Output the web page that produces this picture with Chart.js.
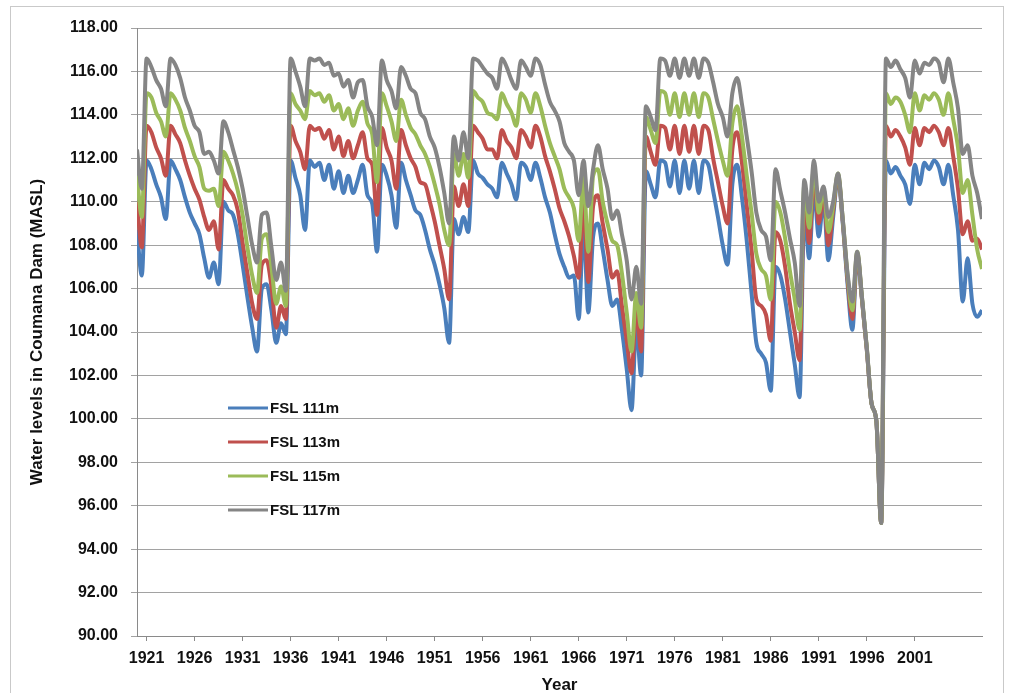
<!DOCTYPE html>
<html>
<head>
<meta charset="utf-8">
<title>Water levels in Coumana Dam</title>
<script src="https://cdn.jsdelivr.net/npm/chart.js@4.4.1/dist/chart.umd.min.js"></script>
<style>
  html, body { margin: 0; padding: 0; background: #fff; }
  #wrap { position: relative; width: 1014px; height: 693px; }
</style>
</head>
<body>
<div id="wrap"><canvas id="myChart"></canvas></div>
<script>
//==============DATA===============
// half-year steps
const years = [
  1920.0, 1920.5, 1921.0, 1921.5, 1922.0, 1922.5, 1923.0, 1923.5, 1924.0, 1924.5,
  1925.0, 1925.5, 1926.0, 1926.5, 1927.0, 1927.5, 1928.0, 1928.5, 1929.0, 1929.5,
  1930.0, 1930.5, 1931.0, 1931.5, 1932.0, 1932.5, 1933.0, 1933.5, 1934.0, 1934.5,
  1935.0, 1935.5, 1936.0, 1936.5, 1937.0, 1937.5, 1938.0, 1938.5, 1939.0, 1939.5,
  1940.0, 1940.5, 1941.0, 1941.5, 1942.0, 1942.5, 1943.0, 1943.5, 1944.0, 1944.5,
  1945.0, 1945.5, 1946.0, 1946.5, 1947.0, 1947.5, 1948.0, 1948.5, 1949.0, 1949.5,
  1950.0, 1950.5, 1951.0, 1951.5, 1952.0, 1952.5, 1953.0, 1953.5, 1954.0, 1954.5,
  1955.0, 1955.5, 1956.0, 1956.5, 1957.0, 1957.5, 1958.0, 1958.5, 1959.0, 1959.5,
  1960.0, 1960.5, 1961.0, 1961.5, 1962.0, 1962.5, 1963.0, 1963.5, 1964.0, 1964.5,
  1965.0, 1965.5, 1966.0, 1966.5, 1967.0, 1967.5, 1968.0, 1968.5, 1969.0, 1969.5,
  1970.0, 1970.5, 1971.0, 1971.5, 1972.0, 1972.5, 1973.0, 1973.5, 1974.0, 1974.5,
  1975.0, 1975.5, 1976.0, 1976.5, 1977.0, 1977.5, 1978.0, 1978.5, 1979.0, 1979.5,
  1980.0, 1980.5, 1981.0, 1981.5, 1982.0, 1982.5, 1983.0, 1983.5, 1984.0, 1984.5,
  1985.0, 1985.5, 1986.0, 1986.5, 1987.0, 1987.5, 1988.0, 1988.5, 1989.0, 1989.5,
  1990.0, 1990.5, 1991.0, 1991.5, 1992.0, 1992.5, 1993.0, 1993.5, 1994.0, 1994.5,
  1995.0, 1995.5, 1996.0, 1996.5, 1997.0, 1997.5, 1998.0, 1998.5, 1999.0, 1999.5,
  2000.0, 2000.5, 2001.0, 2001.5, 2002.0, 2002.5, 2003.0, 2003.5, 2004.0, 2004.5,
  2005.0, 2005.5, 2006.0, 2006.5, 2007.0, 2007.5, 2008.0
];

const fsl111 = [
  108.7, 106.6, 111.9, 111.5, 110.8, 110.2, 109.2, 111.9, 111.5, 111.0,
  110.2, 109.5, 109.0, 108.5, 107.4, 106.5, 107.2, 106.2, 110.0, 109.6,
  109.4, 108.5, 107.1, 105.6, 104.2, 103.1, 106.0, 106.2, 105.0, 103.5,
  104.4, 103.9, 111.9, 111.1, 110.3, 108.7, 111.9, 111.6, 111.8, 111.0,
  111.7, 110.6, 111.4, 110.4, 111.2, 110.4, 111.0, 111.7, 110.3, 109.9,
  107.7, 111.7, 111.2, 110.3, 108.8, 111.8, 111.0, 110.3, 109.6, 109.4,
  108.7, 107.8, 107.1, 106.2, 105.1, 103.5, 109.2, 108.5, 109.3, 108.6,
  111.9, 111.3, 111.1, 110.8, 110.6, 110.2, 111.8, 111.3, 110.8, 110.1,
  111.8, 111.6, 111.0, 111.8, 111.1, 110.2, 109.5, 108.5, 107.6, 107.0,
  106.5, 106.6, 104.6, 108.9, 104.9, 108.4, 109.0, 107.8, 106.4, 105.2,
  105.5, 104.1, 102.3, 100.4, 104.3, 102.0, 111.4, 110.8, 110.2, 111.9,
  111.8, 110.7, 111.9, 110.4, 111.9, 110.6, 111.9, 110.4, 111.9, 111.7,
  110.5, 109.3, 108.0, 107.1, 110.8, 111.7, 110.2, 108.2, 105.8, 103.5,
  103.0, 102.6, 101.3, 107.0, 106.6, 105.5, 104.0, 102.5, 101.0, 109.6,
  107.4, 110.6, 108.4, 110.1, 107.3, 109.3, 111.1, 109.0, 106.2, 104.1,
  107.5, 105.5, 103.2, 100.7, 99.9, 95.2, 111.9, 111.3, 111.6, 111.2,
  110.8, 109.9, 111.7, 110.8, 111.8, 111.5, 111.9, 111.6, 110.8, 111.7,
  110.3, 108.7, 105.4, 107.4, 105.3, 104.7, 105.0
];

const fsl113 = [
  110.0, 107.9, 113.5, 113.2, 112.5, 112.0, 111.2, 113.5, 113.1, 112.7,
  111.9, 111.2, 110.6, 110.1, 109.3, 108.7, 109.1, 107.8, 111.0, 110.6,
  110.3, 109.6, 108.1, 106.7, 105.3, 104.6, 107.1, 107.3, 106.1, 104.2,
  105.2, 104.6, 113.5, 112.8, 112.3, 111.5, 113.5, 113.3, 113.4, 112.9,
  113.3, 112.4, 113.0, 112.1, 112.8, 112.0, 112.6, 113.2, 112.0, 111.7,
  109.4, 113.4, 112.5, 111.9, 110.6, 113.3, 112.6, 112.0, 111.6, 110.9,
  110.8, 110.0, 109.1, 108.0, 106.9, 105.5, 110.7, 109.8, 110.8, 109.8,
  113.5, 113.2, 112.9, 112.4, 112.4, 112.0, 113.3, 112.8, 112.5, 112.0,
  113.3, 113.0, 112.5, 113.5, 113.0, 112.1, 111.4, 110.6, 109.7, 109.1,
  108.4, 107.5, 106.5, 110.0, 106.3, 109.8, 110.3, 109.0, 107.8, 106.5,
  106.8, 105.2, 103.6, 102.1, 105.1, 103.1, 113.0, 112.3, 111.7, 113.5,
  113.4, 112.4, 113.5, 112.2, 113.5, 112.3, 113.5, 112.2, 113.5, 113.3,
  112.0, 110.9, 109.8, 109.0, 112.4, 113.2, 111.8, 109.8, 107.8, 105.5,
  105.2, 104.8, 103.6, 108.6, 108.2, 107.0, 105.3, 104.0, 102.7, 110.3,
  108.1, 111.3, 109.0, 110.4, 108.0, 109.6, 111.2, 109.1, 106.4, 104.6,
  107.6, 105.5, 103.2, 100.7, 99.9, 95.2, 113.5, 113.0, 113.3, 113.0,
  112.5, 111.7, 113.4, 112.6, 113.4, 113.2, 113.5, 113.2, 112.6, 113.4,
  112.1, 110.6, 108.5, 109.1, 108.2, 108.3, 107.8
];

const fsl115 = [
  111.2, 109.3, 115.0, 114.8, 114.1, 113.7, 113.0, 115.0, 114.7, 114.2,
  113.4, 112.8, 112.1, 111.6, 110.6, 110.5, 110.6, 109.8, 112.3, 111.9,
  111.3, 110.5, 109.4, 107.9, 106.6, 105.8, 108.3, 108.5, 107.0, 105.3,
  106.1, 105.2, 115.0, 114.5, 114.2, 113.8, 115.1, 114.9, 115.0, 114.6,
  114.9, 114.2, 114.5, 113.8, 114.3, 113.5, 114.2, 114.6, 113.6, 113.1,
  110.9, 115.0, 114.4, 113.7, 112.8, 114.7, 114.0, 113.4, 113.1, 112.6,
  112.2, 111.6, 110.8, 109.9, 108.7, 108.0, 112.2, 111.2, 112.2, 111.1,
  115.1, 114.8, 114.6, 114.1, 114.0, 113.8, 115.0, 114.5, 114.1, 113.5,
  115.0, 114.7, 114.1, 115.0, 114.4, 113.5, 112.7, 112.1, 111.5, 110.6,
  110.2, 109.7, 108.2, 111.1, 107.7, 111.2, 111.5, 110.0, 109.0, 108.2,
  108.0, 106.7, 104.9, 103.1, 105.8, 104.2, 113.9, 113.3, 112.7, 115.1,
  115.0, 114.0, 115.0, 113.9, 115.0, 114.0, 115.0, 113.9, 115.0, 114.8,
  113.8, 112.8, 111.9, 111.2, 113.6, 114.4, 113.0, 111.2, 109.5, 107.6,
  106.9, 106.6, 105.5, 110.0, 109.5, 108.3, 106.8, 105.5, 104.1, 110.8,
  108.8, 111.6, 109.5, 110.6, 108.6, 109.8, 111.3, 109.2, 106.6, 105.0,
  107.7, 105.6, 103.3, 100.7, 99.9, 95.2, 115.0, 114.5, 114.8, 114.6,
  114.0, 113.2, 115.0, 114.2, 114.9, 114.7, 115.0, 114.7, 114.0, 115.0,
  113.8, 112.5, 110.4, 111.0, 109.4, 107.8, 106.9
];

const fsl117 = [
  112.4, 110.6, 116.6, 116.2, 115.6, 115.2, 114.4, 116.6, 116.3, 115.7,
  114.8, 114.2, 113.5, 113.2, 112.2, 112.3, 111.9, 111.3, 113.7, 113.2,
  112.4, 111.6, 110.6, 109.3, 108.0, 107.2, 109.4, 109.5, 107.9, 106.4,
  107.2, 105.9, 116.6, 116.0, 115.3, 114.4, 116.6, 116.5, 116.6, 116.3,
  116.4, 115.8, 115.9, 115.3, 115.6, 114.8, 115.5, 115.6, 114.4, 113.9,
  112.6, 116.5, 115.6, 115.1, 114.3, 116.2, 115.8, 115.2, 115.0, 114.1,
  113.8, 113.0, 112.5, 111.6, 110.4, 109.0, 113.0, 111.9, 113.2, 112.0,
  116.6, 116.5, 116.2, 115.9, 115.7, 115.2, 116.6, 116.2, 115.6, 115.2,
  116.5, 116.2, 115.8, 116.6, 116.3, 115.4, 114.6, 114.2, 113.7, 112.7,
  112.3, 111.9, 110.3, 111.9, 109.8, 111.5, 112.6, 111.5, 110.6, 109.2,
  109.6, 108.5, 107.3, 105.5, 107.0, 105.3, 114.4, 113.9, 113.3, 116.6,
  116.5, 115.8, 116.6, 115.7, 116.6, 115.8, 116.6, 115.7, 116.6, 116.4,
  115.5, 114.5, 113.9, 113.0, 115.0, 115.7, 114.5, 113.0, 111.4, 109.5,
  108.7, 108.4, 107.3, 111.5, 110.5, 109.5, 108.3, 107.2, 105.2, 111.0,
  109.5, 111.9, 110.0, 110.7, 109.3, 110.0, 111.3, 109.2, 106.7, 105.4,
  107.7, 105.6, 103.3, 100.7, 99.9, 95.2, 116.6, 116.2, 116.5, 116.1,
  115.7, 114.8, 116.5, 115.9, 116.4, 116.3, 116.6, 116.4, 115.5, 116.6,
  115.5, 114.3, 112.2, 112.6, 111.2, 110.4, 109.2
];

const seriesNames = ['FSL 111m', 'FSL 113m', 'FSL 115m', 'FSL 117m'];
const seriesColors = ['#4a7ebb', '#c0504d', '#9bbb59', '#858585'];
const xTickYears = [1921, 1926, 1931, 1936, 1941, 1946, 1951, 1956, 1961, 1966, 1971, 1976, 1981, 1986, 1991, 1996, 2001];

//==============HELPERS===============
const FONT = '"Liberation Sans", Arial, sans-serif';

function toPoints(values) {
  return years.map((y, i) => ({x: y, y: values[i]}));
}

// frame + white background
const framePlugin = {
  id: 'frame',
  beforeDraw(chart) {
    const ctx = chart.ctx;
    ctx.save();
    ctx.fillStyle = '#fff';
    ctx.fillRect(0, 0, chart.width, chart.height);
    ctx.strokeStyle = '#c9c9c9';
    ctx.lineWidth = 1;
    ctx.strokeRect(10.5, 6.5, 993, 700);
    ctx.restore();
  }
};

// legend sitting inside the plot, lower left
const legendPlugin = {
  id: 'fslLegend',
  afterDraw(chart) {
    const ctx = chart.ctx;
    ctx.save();
    ctx.font = 'bold 15px ' + FONT;
    ctx.textBaseline = 'middle';
    ctx.fillStyle = '#111';
    seriesNames.forEach((name, i) => {
      const y = 408 + i * 34;
      ctx.strokeStyle = seriesColors[i];
      ctx.lineWidth = 3;
      ctx.beginPath();
      ctx.moveTo(228, y);
      ctx.lineTo(268, y);
      ctx.stroke();
      ctx.fillText(name, 270, y + 1);
    });
    ctx.restore();
  }
};

//==============CHART===============
const allSeries = [fsl111, fsl113, fsl115, fsl117];

const datasets = allSeries.map((vals, i) => ({
  label: seriesNames[i],
  data: toPoints(vals),
  borderColor: seriesColors[i],
  backgroundColor: seriesColors[i],
  borderWidth: 4,
  pointRadius: 0,
  cubicInterpolationMode: 'monotone',
  order: 3 - i   // grey on top
}));

const myChart = document.getElementById('myChart');

let lineChart = new Chart(myChart, {
  type: 'line',
  data: { datasets: datasets },
  plugins: [framePlugin, legendPlugin],
  options: {
    responsive: true,
    maintainAspectRatio: false,
    animation: false,
    layout: { padding: { top: 28, right: 32, bottom: 0, left: 0 } },
    plugins: {
      legend: { display: false },
      tooltip: { enabled: false }
    },
    scales: {
      x: {
        type: 'linear',
        min: 1920,
        max: 2008,
        afterFit: scale => { scale.height = 57; },
        afterBuildTicks: scale => {
          scale.ticks = xTickYears.map(v => ({value: v}));
        },
        ticks: {
          autoSkip: false,
          maxRotation: 0,
          padding: 8,
          color: '#111',
          font: { family: FONT, size: 16, weight: 'bold' },
          callback: v => String(v)
        },
        grid: { drawOnChartArea: false, drawTicks: true, tickLength: 5, color: '#8a8a8a' },
        border: { color: '#8a8a8a', width: 1 },
        title: {
          display: true,
          text: 'Year',
          color: '#111',
          font: { family: FONT, size: 17, weight: 'bold', lineHeight: 0.9 },
          padding: { top: 0, bottom: 0 }
        }
      },
      y: {
        min: 90,
        max: 118,
        afterFit: scale => { scale.width = 137; },
        ticks: {
          stepSize: 2,
          padding: 13,
          color: '#111',
          font: { family: FONT, size: 16, weight: 'bold' },
          callback: v => v.toFixed(2)
        },
        grid: { color: '#a2a2a2', lineWidth: 1, tickLength: 6 },
        border: { color: '#8a8a8a', width: 1 },
        title: {
          display: true,
          text: 'Water levels in Coumana Dam (MASL)',
          color: '#111',
          font: { family: FONT, size: 17, weight: 'bold' },
          padding: { top: 27, bottom: 0 }
        }
      }
    }
  }
});
</script>
</body>
</html>
